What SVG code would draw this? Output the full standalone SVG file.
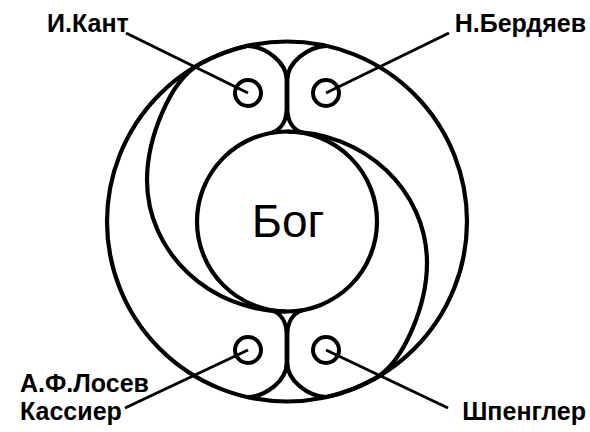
<svg xmlns="http://www.w3.org/2000/svg" width="590" height="432" viewBox="0 0 590 432">
<style>
.ln{fill:none;stroke:#000;stroke-width:4.2;stroke-linejoin:round}
.sm{fill:none;stroke:#000;stroke-width:4}
.ld{fill:none;stroke:#000;stroke-width:3}
.lb{font-family:"Liberation Sans",Arial,sans-serif;font-weight:bold;font-size:25px;fill:#000}
.god{font-family:"Liberation Sans",Arial,sans-serif;font-size:46px;fill:#000}
</style>
<rect width="590" height="432" fill="#fff"/>
<g id="outer"><circle class="ln" cx="287" cy="221.5" r="180"/></g>
<g id="god"><circle class="ln" cx="287" cy="221.5" r="90"/><text class="god" x="288" y="237" text-anchor="middle">Бог</text></g>
<g id="swirls">
<path id="leftS" class="ln" d="M271,133 C281,130 286.7,121 286.7,108 L286.7,80 C286.7,62 266,47 248,45.8 A180 180 0 0 0 200,63.9 C169,81 147,140 147,180 C147,252.6 209.7,311.5 287,311.5"/>
<path id="topRightLoop" class="ln" d="M303,133 C293,130 287.3,121 287.3,108 L287.3,80 C287.3,62 308,47 326,45.8"/>
<g transform="rotate(180 287 221.5)">
<path class="ln" d="M271,133 C281,130 286.7,121 286.7,108 L286.7,80 C286.7,62 266,47 248,45.8 A180 180 0 0 0 200,63.9 C169,81 147,140 147,180 C147,252.6 209.7,311.5 287,311.5"/>
<path class="ln" d="M303,133 C293,130 287.3,121 287.3,108 L287.3,80 C287.3,62 308,47 326,45.8"/>
</g>
</g>
<g id="connectors">
<line class="ld" x1="126" y1="33" x2="248" y2="93"/>
<line class="ld" x1="449" y1="33" x2="326" y2="93"/>
<line class="ld" x1="125" y1="408" x2="248" y2="350"/>
<line class="ld" x1="448" y1="408" x2="326" y2="350"/>
</g>
<g id="kant"><circle class="sm" cx="248" cy="93" r="13"/><text class="lb" x="47" y="32">И.Кант</text></g>
<g id="berdyaev"><circle class="sm" cx="326" cy="93" r="13"/><text class="lb" x="586" y="32" text-anchor="end">Н.Бердяев</text></g>
<g id="losev"><circle class="sm" cx="248" cy="350" r="13"/><text class="lb" x="20" y="392">А.Ф.Лосев</text><text class="lb" x="20" y="420">Кассиер</text></g>
<g id="spengler"><circle class="sm" cx="326" cy="350" r="13"/><text class="lb" x="586" y="420" text-anchor="end">Шпенглер</text></g>
</svg>
